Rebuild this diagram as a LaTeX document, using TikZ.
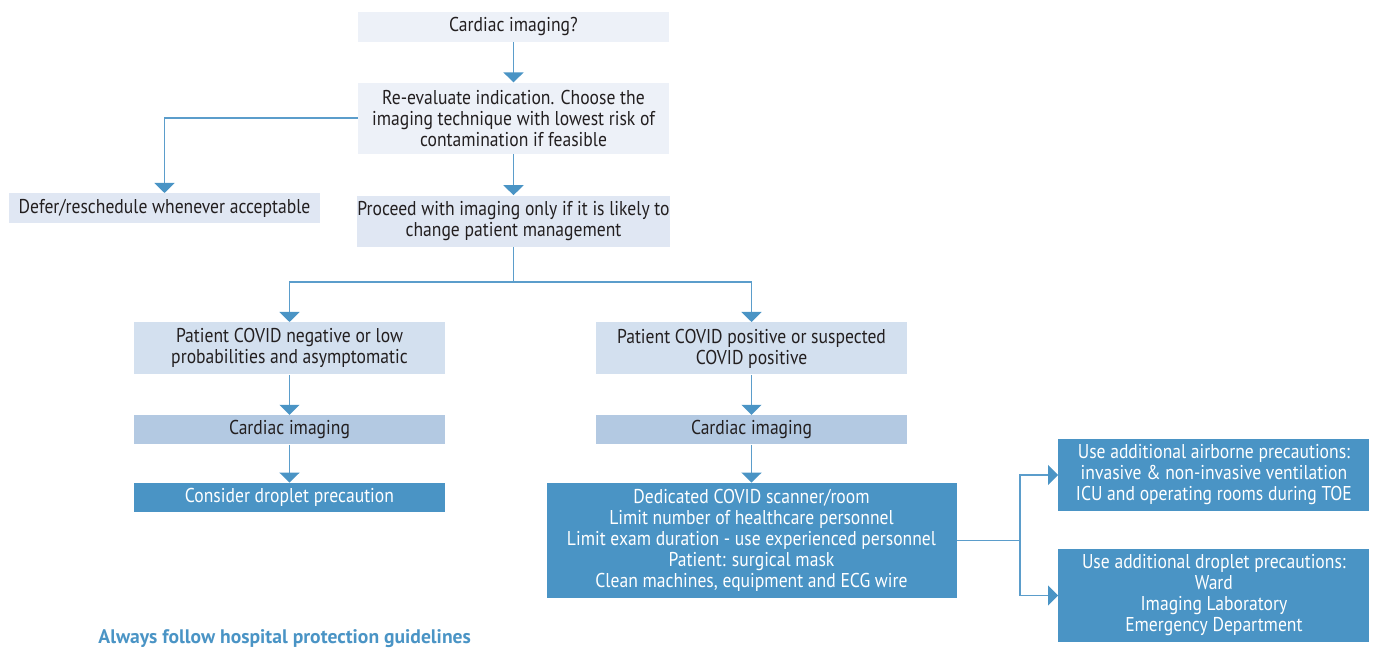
\documentclass[tikz,border=0pt]{standalone}
\usepackage{fontspec}
\setmainfont{PT Sans}[FakeStretch=0.88]
\newfontfamily\notefont{PT Sans}
\usepackage{xcolor}
\usetikzlibrary{arrows.meta, positioning}

\definecolor{paleblue}{HTML}{EDF1F8}
\definecolor{softblue}{HTML}{E0E7F3}
\definecolor{lightblue}{HTML}{D3E0EF}
\definecolor{midblue}{HTML}{B3C9E2}
\definecolor{darkblue}{HTML}{4A94C5}
\definecolor{linkblue}{HTML}{5B9DCB}
\definecolor{inkgray}{HTML}{231F20}

\begin{document}
\begin{tikzpicture}[
        x=0.5pt, y=-0.5pt,
        node distance=20pt,
        every node/.style={font=\fontsize{10}{10.5}\selectfont, text=inkgray},
        box/.style={rectangle, inner sep=0pt, align=center, minimum width=155.5pt, minimum height=15pt},
        qbox/.style={box, fill=paleblue},
        stepbox/.style={box, fill=softblue},
        casebox/.style={box, fill=lightblue, minimum height=26pt},
        imgbox/.style={box, fill=midblue, minimum height=14.5pt},
        actbox/.style={box, fill=darkblue, text=white},
        line/.style={draw=linkblue, line width=0.8pt},
        arr/.style={line, -{Triangle[width=10pt, length=5pt, color=darkblue]}},
    ]
    \useasboundingbox (0,0) rectangle (1375,651);

    %% ===== Top of the flow =====
    \node[qbox] (ask) at (513.5,27) {Cardiac imaging?};
    \node[qbox, below=of ask, minimum height=35.5pt] (reeval) {Re-evaluate indication. Choose the\\imaging technique with lowest risk of\\contamination if feasible};
    \node[stepbox, below=20.5pt of reeval, minimum height=25.5pt] (proceed) {Proceed with imaging only if it is likely to\\change patient management};
    \node[stepbox, anchor=north] (defer) at (164.5,193) {Defer/reschedule whenever acceptable};

    \draw[arr] (ask) -- (reeval);
    \draw[arr] (reeval.west) -| (defer.north);
    \draw[arr] (reeval) -- (proceed);

    %% ===== Patient status =====
    \coordinate (split) at (513.5,282);
    \node[casebox, anchor=north] (neg) at (289.5,322) {Patient COVID negative or low\\probabilities and asymptomatic};
    \node[casebox, anchor=north] (pos) at (751.5,322) {Patient COVID positive or suspected\\COVID positive};
    \draw[line] (proceed) -- (split);
    \draw[arr] (split) -| (neg.north);
    \draw[arr] (split) -| (pos.north);

    %% ===== Negative branch =====
    \node[imgbox, below=of neg] (imgneg) {Cardiac imaging};
    \node[actbox, below=19pt of imgneg, minimum height=14.5pt] (droplet) {Consider droplet precaution};
    \draw[arr] (neg) -- (imgneg);
    \draw[arr] (imgneg) -- (droplet);

    %% ===== Positive branch =====
    \node[imgbox, below=of pos] (imgpos) {Cardiac imaging};
    \node[actbox, below=19pt of imgpos, minimum width=205pt, minimum height=57.5pt] (dedicated) {Dedicated COVID scanner/room\\Limit number of healthcare personnel\\Limit exam duration - use experienced personnel\\Patient: surgical mask\\Clean machines, equipment and ECG wire};
    \draw[arr] (pos) -- (imgpos);
    \draw[arr] (imgpos) -- (dedicated);

    %% ===== Extra precautions =====
    \coordinate[right=31.5pt of dedicated.east] (fork);
    \node[actbox, anchor=west, minimum height=36pt] (airborne) at (1058,475) {Use additional airborne precautions:\\invasive \& non-invasive ventilation\\ICU and operating rooms during TOE};
    \node[actbox, anchor=west, minimum height=46.5pt] (dropmore) at (1058,595.5) {Use additional droplet precautions:\\Ward\\Imaging Laboratory\\Emergency Department};
    \draw[line] (dedicated.east) -- (fork);
    \draw[arr] (fork) |- (airborne.west);
    \draw[arr] (fork) |- (dropmore.west);

    %% ===== Footnote =====
    \node[anchor=west, inner sep=0pt, text=darkblue, font=\fontsize{9.8}{10.5}\notefont\bfseries] (note) at (98,639) {Always follow hospital protection guidelines};

\end{tikzpicture}
\end{document}
